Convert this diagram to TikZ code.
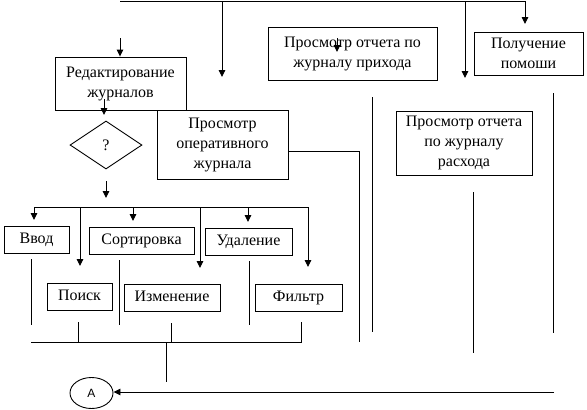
\documentclass[tikz,border=0pt]{standalone}
\usepackage{fontspec}
\setmainfont{Liberation Serif}
\setsansfont{Liberation Sans}
\usetikzlibrary{arrows.meta,shapes.geometric}
\begin{document}
\begin{tikzpicture}[x=1pt,y=-1pt,
  line width=0.9pt,
  font=\fontsize{16}{20}\selectfont,
  box/.style={draw,rectangle,align=center,inner sep=0pt},
  arr/.style={-{Triangle[width=6.5pt,length=7pt]}},
  ln/.style={-}]
\useasboundingbox (0,0) rectangle (587,410);
% boxes
\node[box,minimum width=131pt,minimum height=53pt] (red) at (120.5,83.5) {Редактирование\\журналов};
\node[box,minimum width=131pt,minimum height=69pt] (oper) at (222.5,144.5) {Просмотр\\оперативного\\журнала};
\node[box,minimum width=169pt,minimum height=53pt] (prihod) at (352.5,53.5) {Просмотр отчета по\\журналу прихода};
\node[box,minimum width=109pt,minimum height=43pt] (help) at (528.5,53.5) {Получение\\помоши};
\node[box,minimum width=136pt,minimum height=64pt] (rashod) at (464,143) {Просмотр отчета\\по журналу\\расхода};
\node[draw,diamond,aspect=1.5,minimum width=72pt,minimum height=48pt,inner sep=0pt] (q) at (106,145) {?};
\node[box,minimum width=65pt,minimum height=27pt] (vvod) at (36.5,239.5) {Ввод\strut};
\node[box,minimum width=105pt,minimum height=27pt] (sort) at (141.5,240.5) {Сортировка\strut};
\node[box,minimum width=87pt,minimum height=27pt] (udal) at (248.5,241.5) {Удаление\strut};
\node[box,minimum width=65pt,minimum height=27pt] (poisk) at (79.5,296.5) {Поиск\strut};
\node[box,minimum width=96pt,minimum height=27pt] (izm) at (172,297.5) {Изменение\strut};
\node[box,minimum width=87pt,minimum height=27pt] (filtr) at (298.5,297.5) {Фильтр\strut};
\node[draw,ellipse,minimum width=43pt,minimum height=31pt,inner sep=0pt,font=\sffamily\fontsize{12}{14}\selectfont] (A) at (91.5,393) {А};
% coordinates
\coordinate (t0) at (120,1);
\coordinate (t1) at (525,1);
\coordinate (t2) at (222,1);
\coordinate (t3) at (465,1);
\coordinate (hA) at (525,24);
\coordinate (opA) at (222,77);
\coordinate (raA) at (465,78);
\coordinate (s0) at (337,38);
\coordinate (s1) at (337,52);
\coordinate (r0) at (120,38);
\coordinate (r1) at (104,99);
\coordinate (r2) at (104,115);
\coordinate (d0) at (106,181);
\coordinate (d1) at (106,198);
\coordinate (o1) at (359,151);
\coordinate (o2) at (359,342);
\coordinate (v1a) at (372,97);
\coordinate (v1b) at (372,332);
\coordinate (v2a) at (553,93);
\coordinate (v2b) at (553,333);
\coordinate (v3a) at (473,192);
\coordinate (v3b) at (473,353);
\coordinate (b0) at (34,207);
\coordinate (b1) at (308,207);
\coordinate (b2) at (80,207);
\coordinate (b3) at (133,207);
\coordinate (b4) at (200,207);
\coordinate (b5) at (248,207);
\coordinate (pa) at (80,266);
\coordinate (ia) at (200,268);
\coordinate (fa) at (308,267);
\coordinate (va) at (34,220);
\coordinate (sa) at (133,221);
\coordinate (ua) at (248,222);
\coordinate (l1a) at (31,259);
\coordinate (l1b) at (31,325);
\coordinate (l2a) at (119,260);
\coordinate (l2b) at (119,325);
\coordinate (l3a) at (249,261);
\coordinate (l3b) at (249,325);
\coordinate (m1a) at (78,322);
\coordinate (m1b) at (78,342);
\coordinate (m2a) at (171,323);
\coordinate (m2b) at (171,342);
\coordinate (m3a) at (301,322);
\coordinate (m3b) at (301,342);
\coordinate (busL) at (31,342);
\coordinate (c0) at (166,342);
\coordinate (c1) at (166,382);
\coordinate (e0) at (554,392);
% connectors
\draw[ln] (t0) -- (t1);
\draw[arr] (t1) -- (hA);
\draw[arr] (t2) -- (opA);
\draw[arr] (t3) -- (raA);
\draw[arr] (s0) -- (s1);
\draw[arr] (r0) -- (red.north -| r0);
\draw[arr] (r1) -- (r2);
\draw[arr] (d0) -- (d1);
\draw[ln] (oper.east |- o1) -- (o1) -- (o2);
\draw[ln] (v1a) -- (v1b);
\draw[ln] (v2a) -- (v2b);
\draw[ln] (v3a) -- (v3b);
\draw[ln] (b0) -- (b1);
\draw[arr] (b0) -- (va);
\draw[arr] (b2) -- (pa);
\draw[arr] (b3) -- (sa);
\draw[arr] (b4) -- (ia);
\draw[arr] (b5) -- (ua);
\draw[arr] (b1) -- (fa);
\draw[ln] (l1a) -- (l1b);
\draw[ln] (l2a) -- (l2b);
\draw[ln] (l3a) -- (l3b);
\draw[ln] (m1a) -- (m1b);
\draw[ln] (m2a) -- (m2b);
\draw[ln] (m3a) -- (m3b) -- (busL);
\draw[ln] (c0) -- (c1);
\draw[arr] (e0) -- (A.east |- e0);
\end{tikzpicture}
\end{document}
